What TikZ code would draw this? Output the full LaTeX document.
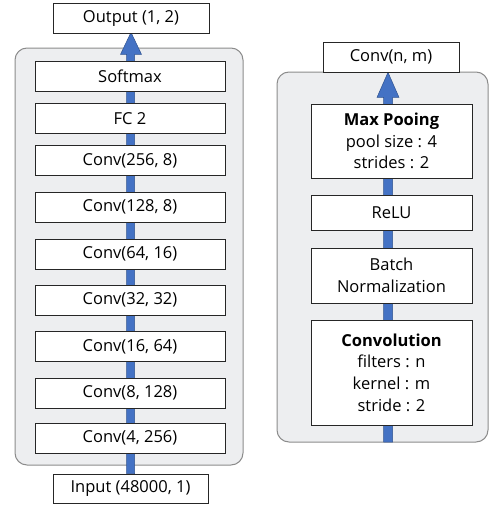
\documentclass[tikz,border=0pt]{standalone}
\usepackage{fontspec}
\setmainfont{Open Sans}
\usetikzlibrary{calc,backgrounds}
\definecolor{panelfill}{HTML}{EDEEF0}
\definecolor{paneledge}{HTML}{8C8C8C}
\definecolor{barfill}{HTML}{4472C4}
\definecolor{baredge}{HTML}{2F528F}
\tikzset{
  layer/.style={draw=black!85, fill=white, line width=0.8pt, inner sep=0pt,
    align=center, font=\fontsize{16.5}{21.7}\selectfont, text=black},
  panel/.style={draw=paneledge, fill=panelfill, line width=1pt, rounded corners=12pt},
  flow/.style={fill=barfill, draw=baredge, line width=0.5pt},
}
\begin{document}
\begin{tikzpicture}[x=1pt,y=-1pt]
\useasboundingbox (0,0) rectangle (489,506);
% left column
\node[layer, minimum width=156pt, minimum height=30pt] (out) at (131,18) {Output (1, 2)};
\node[layer, minimum width=190pt, minimum height=30pt] (l1) at (130,76.7) {Softmax};
\node[layer, minimum width=190pt, minimum height=30pt] (l2) at (130,118.3) {FC 2};
\node[layer, minimum width=190pt, minimum height=30pt] (l3) at (130,160.7) {Conv(256, 8)};
\node[layer, minimum width=190pt, minimum height=30pt] (l4) at (130,207.3) {Conv(128, 8)};
\node[layer, minimum width=190pt, minimum height=30pt] (l5) at (130,254) {Conv(64, 16)};
\node[layer, minimum width=190pt, minimum height=30pt] (l6) at (130,300) {Conv(32, 32)};
\node[layer, minimum width=190pt, minimum height=30pt] (l7) at (130,346.7) {Conv(16, 64)};
\node[layer, minimum width=190pt, minimum height=30pt] (l8) at (130,393.3) {Conv(8, 128)};
\node[layer, minimum width=190pt, minimum height=30pt] (l9) at (130,438.3) {Conv(4, 256)};
\node[layer, minimum width=155pt, minimum height=29pt] (in) at (130.5,488.5) {Input (48000, 1)};
% right column
\node[layer, minimum width=136pt, minimum height=30pt] (rout) at (391,57) {Conv(n, m)};
\node[layer, minimum width=161pt, minimum height=74pt] (mp) at (391.5,141) {\textbf{Max Pooing}\\pool size : 4\\strides : 2};
\node[layer, minimum width=161pt, minimum height=35pt] (relu) at (391.5,213) {ReLU};
\node[layer, minimum width=161pt, minimum height=55pt] (bn) at (391.5,275.5) {Batch\\Normalization};
\node[layer, minimum width=161pt, minimum height=105pt] (cv) at (391.5,372.5) {\textbf{Convolution}\\filters : n\\kernel : m\\stride : 2};
\coordinate (rbot) at (388,442);
\begin{scope}[on background layer]
  \draw[panel] (15,48) rectangle (243,465);
  \draw[panel] (277,72) rectangle (488,442);
  % left flow arrow
  \path[flow] ($(in.north)+(-4,0)$) -- ($(out.south)+(-4.5,21)$) -- ($(out.south)+(-10.5,21)$)
    -- ($(out.south)+(0,-1)$) -- ($(out.south)+(10.5,21)$) -- ($(out.south)+(3.5,21)$)
    -- ($(in.north)+(4,0)$) -- cycle;
  % right flow arrow
  \path[flow] ($(rbot)+(-4.5,0)$) -- ($(rout.south)+(-7.5,25)$) -- ($(rout.south)+(-14,25)$)
    -- ($(rout.south)+(-3,0)$) -- ($(rout.south)+(8,25)$) -- ($(rout.south)+(1.5,25)$)
    -- ($(rbot)+(4.5,0)$) -- cycle;
\end{scope}
\end{tikzpicture}
\end{document}
